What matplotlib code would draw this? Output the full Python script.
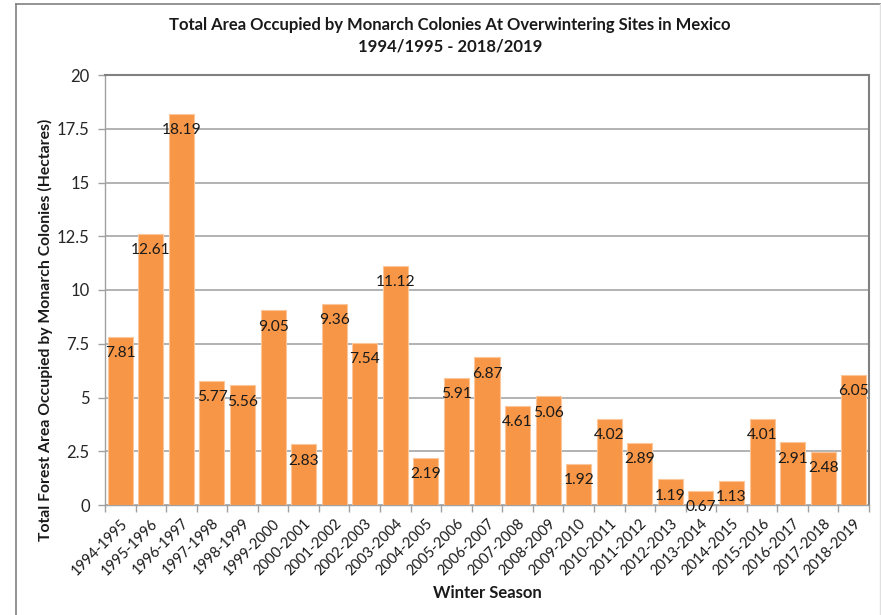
import matplotlib
matplotlib.use("Agg")
import matplotlib.pyplot as plt
from matplotlib.lines import Line2D

plt.rcParams['font.family'] = ['Lato', 'DejaVu Sans']

seasons = ["1994-1995", "1995-1996", "1996-1997", "1997-1998", "1998-1999",
           "1999-2000", "2000-2001", "2001-2002", "2002-2003", "2003-2004",
           "2004-2005", "2005-2006", "2006-2007", "2007-2008", "2008-2009",
           "2009-2010", "2010-2011", "2011-2012", "2012-2013", "2013-2014",
           "2014-2015", "2015-2016", "2016-2017", "2017-2018", "2018-2019"]
hectares = [7.81, 12.61, 18.19, 5.77, 5.56, 9.05, 2.83, 9.36, 7.54, 11.12,
            2.19, 5.91, 6.87, 4.61, 5.06, 1.92, 4.02, 2.89, 1.19, 0.67,
            1.13, 4.01, 2.91, 2.48, 6.05]
yticks = [0, 2.5, 5, 7.5, 10, 12.5, 15, 17.5, 20]
ytick_labels = ["0", "2.5", "5", "7.5", "10", "12.5", "15", "17.5", "20"]

W, H = 881, 615
fig = plt.figure(figsize=(W / 100, H / 100), dpi=100)
ax = fig.add_axes([105 / W, 1 - 505 / H, (869 - 105) / W, (505 - 75) / H])

x = list(range(len(seasons)))
bars = ax.bar(x, hectares, width=0.82, color="#F79646", edgecolor="#FBC79A",
              linewidth=0.8, zorder=3)

for xi, v in zip(x, hectares):
    ax.annotate(f"{v:.2f}", xy=(xi, v), xytext=(0, -11.8), textcoords="offset points",
                ha="center", va="center", fontsize=11.2, color="#1a1a1a", zorder=4)

ax.set_xlim(-0.5, len(seasons) - 0.5)
ax.set_ylim(0, 20)
ax.set_yticks(yticks)
ax.set_yticklabels(ytick_labels, fontsize=12, color="#262626")
ax.yaxis.grid(True, color="#A6A6A6", linewidth=1.2, zorder=0)
ax.set_axisbelow(True)

ax.set_xticks(x)
ax.set_xticklabels(seasons, rotation=45, ha="right", rotation_mode="anchor",
                   fontsize=10.5, color="#1a1a1a")
ax.tick_params(axis="x", length=0, pad=8)
# boundary ticks
ax.set_xticks([i - 0.5 for i in range(len(seasons) + 1)], minor=True)
ax.tick_params(axis="x", which="minor", length=5, color="#A0A0A0", width=1)
ax.tick_params(axis="y", length=5, color="#A0A0A0", width=1, pad=6)

for s in ["top", "right"]:
    ax.spines[s].set_color("#808080")
    ax.spines[s].set_linewidth(1.5)
ax.spines["left"].set_color("#A0A0A0")
ax.spines["left"].set_linewidth(1)
ax.spines["bottom"].set_color("#A0A0A0")
ax.spines["bottom"].set_linewidth(1)

fig.text(450 / W, 1 - 25 / H, "Total Area Occupied by Monarch Colonies At Overwintering Sites in Mexico",
         ha="center", va="center", fontsize=12, fontweight="bold", color="#1a1a1a")
fig.text(450 / W, 1 - 47 / H, "1994/1995 - 2018/2019",
         ha="center", va="center", fontsize=12, fontweight="bold", color="#1a1a1a")
fig.text(45 / W, 1 - 330 / H, "Total Forest Area Occupied by Monarch Colonies (Hectares)",
         ha="center", va="center", rotation=90, fontsize=11.3, fontweight="bold", color="#1a1a1a")
fig.text(487 / W, 1 - 593 / H, "Winter Season",
         ha="center", va="center", fontsize=12, fontweight="bold", color="#1a1a1a")

# outer frame
fig.add_artist(Line2D([16 / W, 16 / W], [0, 1 - 4 / H], transform=fig.transFigure,
                      color="#808080", linewidth=1.2))
fig.add_artist(Line2D([16 / W, 1], [1 - 4 / H, 1 - 4 / H], transform=fig.transFigure,
                      color="#808080", linewidth=1.2))
fig.add_artist(Line2D([880 / W, 880 / W], [0, 1 - 4 / H], transform=fig.transFigure,
                      color="#E0E0E0", linewidth=1.0))

fig.savefig("out.png", dpi=100)
